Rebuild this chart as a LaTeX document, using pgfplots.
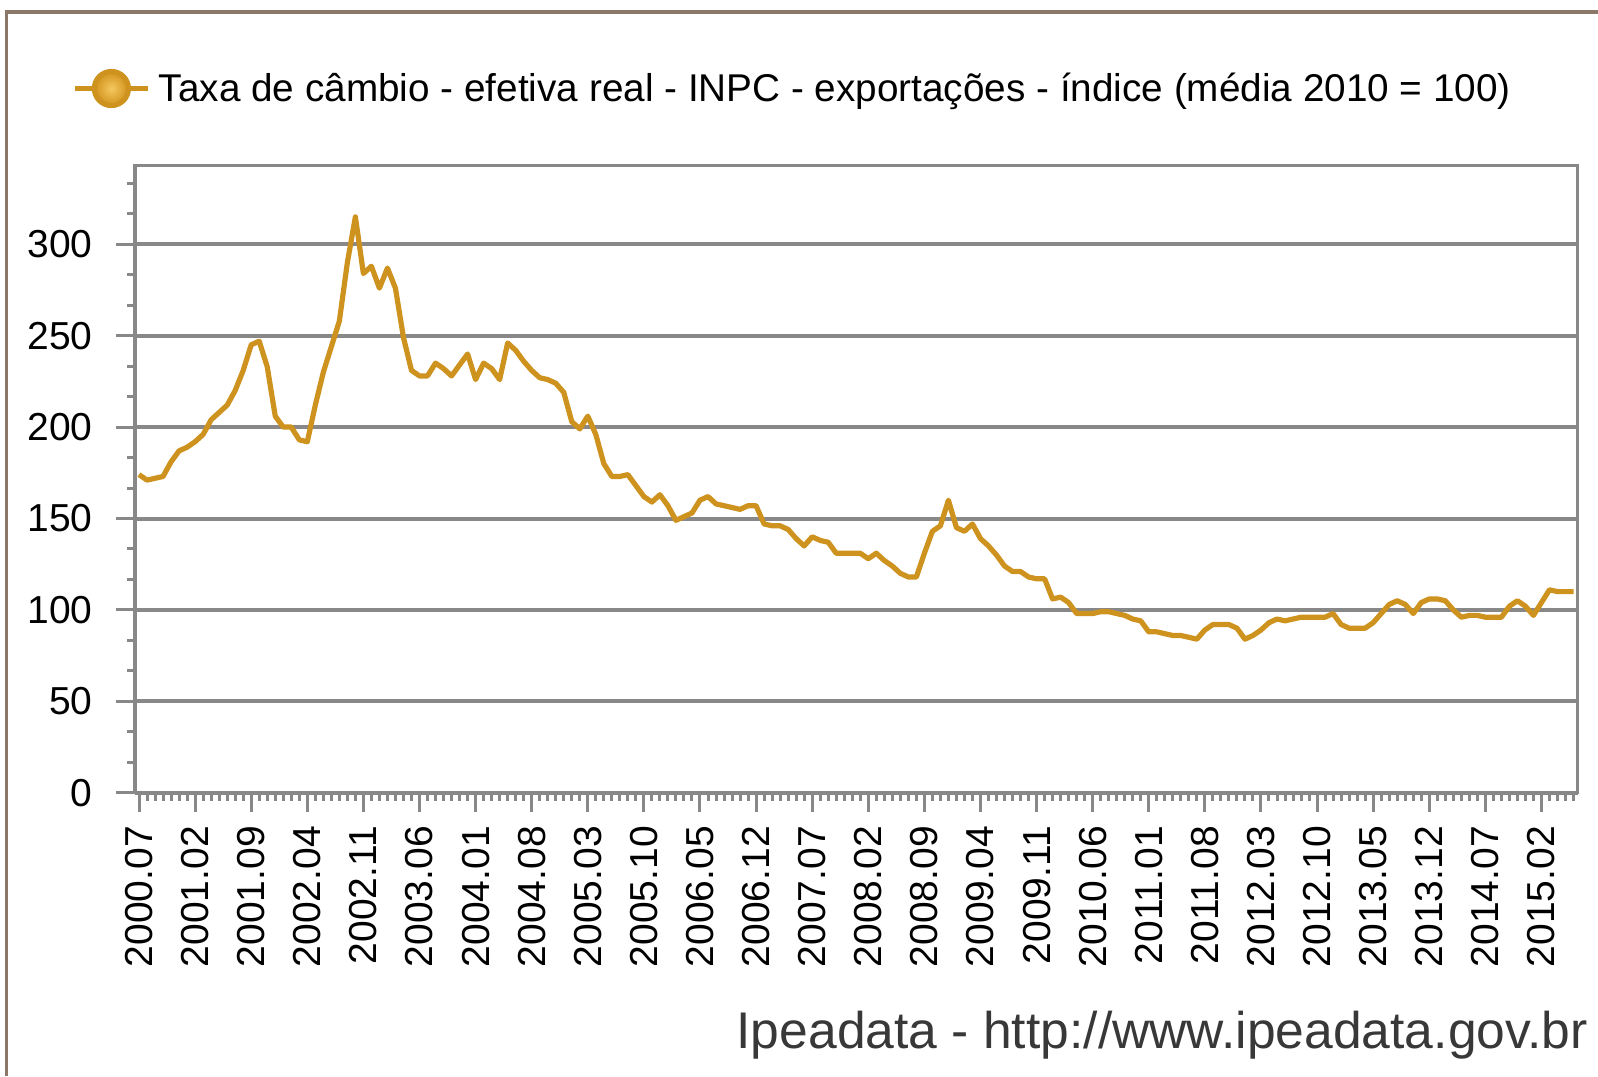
\documentclass[border=0pt]{standalone}
\usepackage{pgfplots}
\usepackage{pgfplotstable}
\pgfplotsset{compat=1.18}
\usepackage{fontspec}
\setmainfont{Liberation Sans}
\definecolor{gridgray}{RGB}{136,136,136}
\definecolor{serie}{RGB}{206,146,30}
\definecolor{framec}{RGB}{140,120,104}
\definecolor{ballin}{RGB}{244,200,96}
\definecolor{ballout}{RGB}{210,146,28}
\definecolor{srcgray}{RGB}{56,56,56}

\pgfplotstableread{
i v
0 174
1 171
2 172
3 173
4 181
5 187
6 189
7 192
8 196
9 204
10 208
11 212
12 220
13 231
14 245
15 247
16 233
17 206
18 200
19 200
20 193
21 192
22 212
23 230
24 244
25 258
26 290
27 315
28 284
29 288
30 276
31 287
32 276
33 249
34 231
35 228
36 228
37 235
38 232
39 228
40 234
41 240
42 226
43 235
44 232
45 226
46 246
47 242
48 236
49 231
50 227
51 226
52 224
53 219
54 203
55 199
56 206
57 196
58 180
59 173
60 173
61 174
62 168
63 162
64 159
65 163
66 157
67 149
68 151
69 153
70 160
71 162
72 158
73 157
74 156
75 155
76 157
77 157
78 147
79 146
80 146
81 144
82 139
83 135
84 140
85 138
86 137
87 131
88 131
89 131
90 131
91 128
92 131
93 127
94 124
95 120
96 118
97 118
98 131
99 143
100 146
101 160
102 145
103 143
104 147
105 139
106 135
107 130
108 124
109 121
110 121
111 118
112 117
113 117
114 106
115 107
116 104
117 98
118 98
119 98
120 99
121 99
122 98
123 97
124 95
125 94
126 88
127 88
128 87
129 86
130 86
131 85
132 84
133 89
134 92
135 92
136 92
137 90
138 84
139 86
140 89
141 93
142 95
143 94
144 95
145 96
146 96
147 96
148 96
149 98
150 92
151 90
152 90
153 90
154 93
155 98
156 103
157 105
158 103
159 98
160 104
161 106
162 106
163 105
164 100
165 96
166 97
167 97
168 96
169 96
170 96
171 102
172 105
173 102
174 97
175 104
176 111
177 110
178 110
179 110
}\datatable

\begin{document}
\begin{tikzpicture}
\useasboundingbox (-67.5pt,-141.65pt) rectangle (731.5pt,396.35pt);
\begin{axis}[
  at={(0pt,0pt)}, anchor=south west,
  scale only axis, width=721.25pt, height=313.5pt,
  xmin=-0.5, xmax=179.5, ymin=0, ymax=343,
  axis line style={gridgray, line width=1.75pt},
  tick style={gridgray, line width=1.5pt},
  tick align=outside,
  major tick length=9.5pt, minor tick length=4pt,
  xtick pos=bottom, ytick pos=left,
  xtick={0,7,...,175},
  xticklabels={2000.07,2001.02,2001.09,2002.04,2002.11,2003.06,2004.01,2004.08,2005.03,2005.10,2006.05,2006.12,2007.07,2008.02,2008.09,2009.04,2009.11,2010.06,2011.01,2011.08,2012.03,2012.10,2013.05,2013.12,2014.07,2015.02},
  minor xtick={0,...,179},
  ytick={0,50,...,300},
  minor ytick={16.667,33.333,66.667,83.333,116.667,133.333,166.667,183.333,216.667,233.333,266.667,283.333,316.667,333.333},
  ymajorgrids=true,
  major grid style={gridgray, line width=2pt},
  /pgf/number format/assume math mode=true,
  ticklabel style={font=\fontsize{19.5}{19.5}\selectfont, black},
  yticklabel style={anchor=east, inner sep=0pt},
  xticklabel style={rotate=90, anchor=east, inner sep=0pt},
  xticklabel shift=7pt,
  yticklabel shift=11.5pt,
  legend style={at={(-0.04298,1.1231)}, anchor=west, draw=none, fill=none,
    inner sep=0pt, outer sep=0pt, font=\fontsize{19.35}{19.35}\selectfont,
    nodes={inner sep=0pt}, /tikz/every even column/.append style={column sep=0pt}},
  legend cell align=left,
  legend image code/.code={
    \draw[serie, line width=2.4pt] (0pt,0pt) -- (36.5pt,0pt);
    \shade[inner color=ballin, outer color=ballout] (18pt,0pt) circle (8.5pt);
    \path (40.5pt,0pt);
  },
]
\addplot[serie, line width=2.6pt, line join=round, mark=none] table[x=i, y=v] {\datatable};
\addlegendentry{Taxa de câmbio - efetiva real - INPC - exportações - índice (média 2010 = 100)}
\end{axis}
\draw[framec, line width=1.75pt] (-64.25pt,-141.65pt) -- (-64.25pt,390.35pt) -- (731.5pt,390.35pt);
\node[anchor=base east, inner sep=0pt, text=srcgray, font=\fontsize{25.8}{25.8}\selectfont] at (726.5pt,-127.65pt) {Ipeadata - http://www.ipeadata.gov.br};
\end{tikzpicture}
\end{document}
